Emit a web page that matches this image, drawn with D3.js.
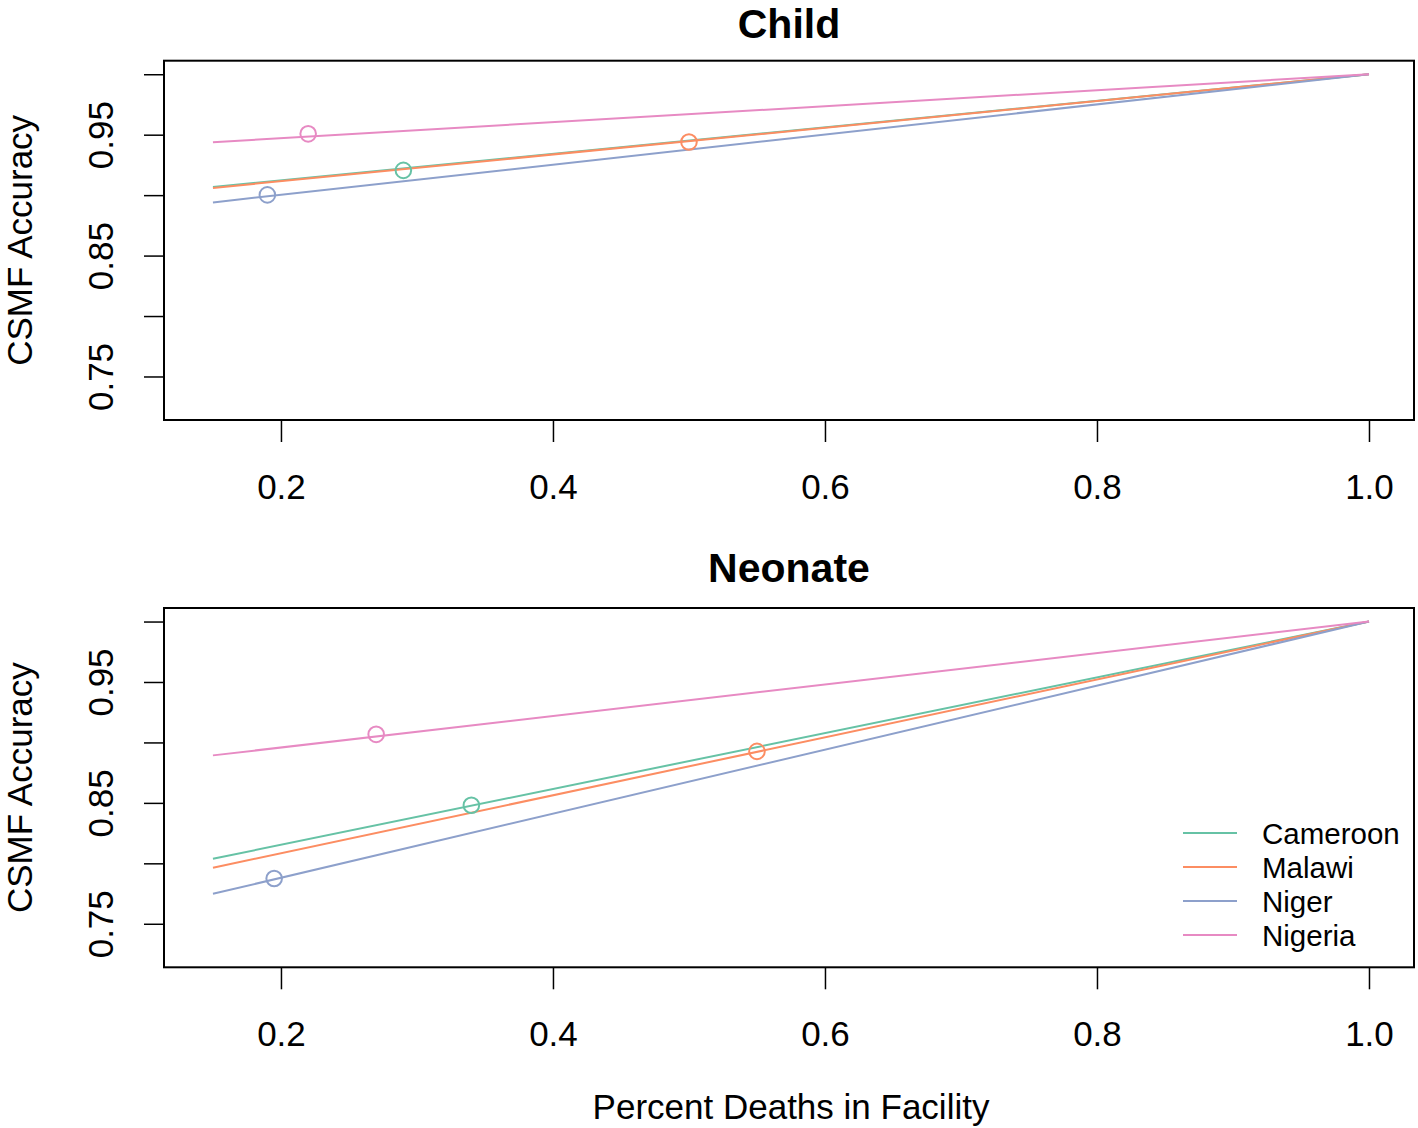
<!DOCTYPE html>
<html>
<head>
<meta charset="utf-8">
<script src="https://cdn.jsdelivr.net/npm/d3@7"></script>
<style>
  html, body { margin: 0; padding: 0; background: #fff; }
  svg { display: block; font-family: "Liberation Sans", Arial, Helvetica, sans-serif; }
</style>
</head>
<body>
<svg id="chart" width="1418" height="1128"></svg>
<script>
// ---- data ----
const countries = ["Cameroon", "Malawi", "Niger", "Nigeria"];
const colors = ["#66C2A5", "#FC8D62", "#8DA0CB", "#E78AC3"];
const panels = ["Child", "Neonate"];
const lineStartX = 0.15;
const lineEndX = 1.0;
const lineEndY = 1.0;
// accuracy at the left end (x = 0.15) of each country's line
const childStart = [0.9068, 0.9060, 0.8940, 0.9438];
const neonateStart = [0.8038, 0.7964, 0.7748, 0.8893];
// observed point (percent deaths in facility, accuracy)
const childPointX = [0.29, 0.50, 0.19, 0.22];
const childPointY = [0.9205, 0.9440, 0.9002, 0.9507];
const neonatePointX = [0.34, 0.55, 0.195, 0.27];
const neonatePointY = [0.8480, 0.8926, 0.7875, 0.9067];
const xTicks = [0.2, 0.4, 0.6, 0.8, 1.0];
const xTickLabels = ["0.2", "0.4", "0.6", "0.8", "1.0"];
const yTicks = [0.75, 0.80, 0.85, 0.90, 0.95, 1.00];
const yTickLabels = ["0.75", "", "0.85", "", "0.95", ""];
const xLabel = "Percent Deaths in Facility";
const yLabel = "CSMF Accuracy";

// ---- layout ----
const svg = d3.select("#chart");
const left = 164, right = 1414;
const panelBoxes = [{ top: 60.7, bottom: 420 }, { top: 608, bottom: 967.3 }];
const xDomain = [0.114, 1.0331];
const yDomain = [0.714, 1.0112];
const x = d3.scaleLinear().domain(xDomain).range([left, right]);

const panelData = [
  { title: panels[0], start: childStart, px: childPointX, py: childPointY },
  { title: panels[1], start: neonateStart, px: neonatePointX, py: neonatePointY }
];

panelData.forEach((pd, pi) => {
  const box = panelBoxes[pi];
  const y = d3.scaleLinear().domain(yDomain).range([box.bottom, box.top]);
  const g = svg.append("g");

  // title
  g.append("text")
    .attr("x", (left + right) / 2)
    .attr("y", Math.max(box.top - 26.5, 38))
    .attr("text-anchor", "middle")
    .attr("font-size", 41)
    .attr("font-weight", "bold")
    .text(pd.title);

  // x axis
  const xAxis = d3.axisBottom(x).tickValues(xTicks).tickSize(22).tickPadding(0)
    .tickFormat((d, i) => xTickLabels[i]);
  const gx = g.append("g").attr("transform", `translate(0,${box.bottom})`).call(xAxis);
  gx.select(".domain").remove();
  gx.selectAll(".tick line").attr("stroke", "#000").attr("stroke-width", 1.5);
  gx.selectAll(".tick text").attr("font-size", 35).attr("fill", "#000")
    .attr("font-family", "Liberation Sans, Arial, sans-serif")
    .attr("dy", 0).attr("y", 78.5);

  // y axis
  const yAxis = d3.axisLeft(y).tickValues(yTicks).tickSize(20).tickPadding(0)
    .tickFormat((d, i) => yTickLabels[i]);
  const gy = g.append("g").attr("transform", `translate(${left},0)`).call(yAxis);
  gy.select(".domain").remove();
  gy.selectAll(".tick line").attr("stroke", "#000").attr("stroke-width", 1.5);
  gy.selectAll(".tick text")
    .attr("font-size", 35).attr("fill", "#000")
    .attr("font-family", "Liberation Sans, Arial, sans-serif")
    .attr("x", null).attr("dy", null)
    .attr("text-anchor", "middle")
    .attr("transform", "translate(-51,0) rotate(-90)");

  // y label
  g.append("text")
    .attr("transform", `translate(32,${(box.top + box.bottom) / 2}) rotate(-90)`)
    .attr("text-anchor", "middle")
    .attr("font-size", 35)
    .text(yLabel);

  // lines
  countries.forEach((c, i) => {
    g.append("line")
      .attr("x1", x(lineStartX)).attr("y1", y(pd.start[i]))
      .attr("x2", x(lineEndX)).attr("y2", y(lineEndY))
      .attr("stroke", colors[i]).attr("stroke-width", 2);
  });
  // points
  countries.forEach((c, i) => {
    g.append("circle")
      .attr("cx", x(pd.px[i])).attr("cy", y(pd.py[i]))
      .attr("r", 7.8)
      .attr("fill", "none")
      .attr("stroke", colors[i]).attr("stroke-width", 2);
  });

  // box
  g.append("rect")
    .attr("x", left).attr("y", box.top)
    .attr("width", right - left).attr("height", box.bottom - box.top)
    .attr("fill", "none").attr("stroke", "#000").attr("stroke-width", 2);
});

// x label
svg.append("text")
  .attr("x", (left + right) / 2 + 2)
  .attr("y", 1119)
  .attr("text-anchor", "middle")
  .attr("font-size", 35)
  .text(xLabel);

// legend
const legend = svg.append("g");
const legY = [833, 867, 901, 935];
countries.forEach((c, i) => {
  legend.append("line")
    .attr("x1", 1183).attr("x2", 1237)
    .attr("y1", legY[i]).attr("y2", legY[i])
    .attr("stroke", colors[i]).attr("stroke-width", 2);
  legend.append("text")
    .attr("x", 1262).attr("y", legY[i] + 10.5)
    .attr("font-size", 29.5)
    .text(c);
});
</script>
</body>
</html>
